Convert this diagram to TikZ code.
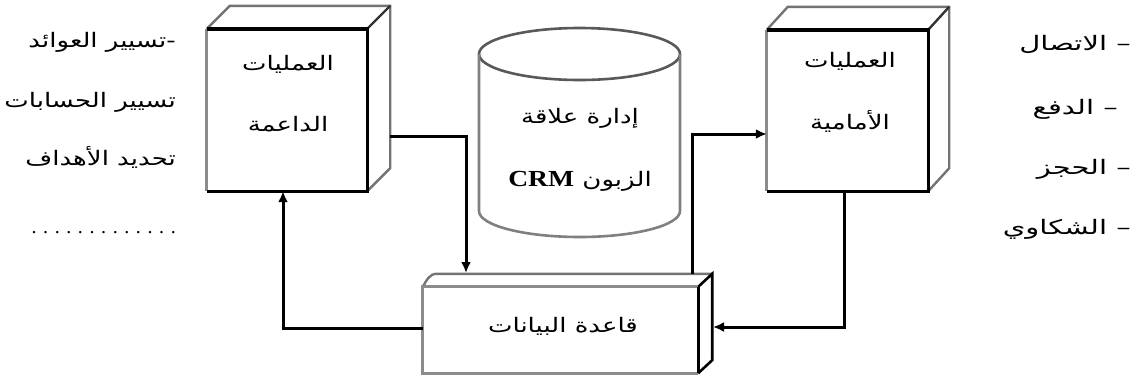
\documentclass[tikz,border=0pt]{standalone}
\usepackage{fontspec}
\setmainfont{Liberation Serif}
\newfontfamily\arabicfont[Script=Arabic,FakeStretch=1.3]{DejaVu Sans}
\newfontfamily\arabicwide[Script=Arabic,FakeStretch=1.45]{DejaVu Sans}
\newfontfamily\crmfont[FakeStretch=1.2]{Liberation Serif}
\TeXXeTstate=1
\usetikzlibrary{arrows.meta,calc}
\begin{document}
\begin{tikzpicture}[x=1pt,y=-1pt,
  box/.style={draw=none, inner sep=0pt},
  frontedge/.style={draw=black, line width=3.4pt},
  lightedge/.style={draw=black!45, line width=3pt},
  backedge/.style={draw=black!55, line width=2.4pt},
  conn/.style={draw=black, line width=3pt},
  arr/.style={-{Latex[length=11pt,width=10pt]}},
  ar/.style={font=\arabicfont\fontsize{20}{22}\selectfont, inner sep=0pt},
  lst/.style={ar, anchor=east},
  rlst/.style={font=\arabicwide\fontsize{20}{22}\selectfont, inner sep=0pt, anchor=east}]
\useasboundingbox (0,0) rectangle (1133,381);

% ---- left box (back office)
\node[box, minimum width=160pt, minimum height=162pt] (lb) at (287,110) {};
\draw[backedge] (lb.north west) -- ++(23,-23) -- ($(lb.north east)+(23,-23)$) -- ($(lb.south east)+(23,-23)$) -- (lb.south east);
\draw[backedge,draw=black!80] (lb.north east) -- ++(23,-23);
\draw[lightedge] (lb.north west) -- (lb.south west);
\draw[frontedge] (lb.south west) -- (lb.south east) -- (lb.north east) -- (lb.north west);
\node[ar] (lbt1) at (288,64) {\beginR العمليات\endR};
\node[ar] (lbt2) at (288,124) {\beginR الداعمة\endR};

% ---- right box (front office)
\node[box, minimum width=161pt, minimum height=161pt] (rb) at (847.5,110.5) {};
\draw[backedge] (rb.north west) -- ++(21,-23) -- ($(rb.north east)+(21,-23)$) -- ($(rb.south east)+(21,-23)$) -- (rb.south east);
\draw[backedge,draw=black!80] (rb.north east) -- ++(21,-23);
\draw[lightedge] (rb.north west) -- (rb.south west);
\draw[frontedge] (rb.south west) -- (rb.south east) -- (rb.north east) -- (rb.north west);
\node[ar] (rbt1) at (850,61) {\beginR العمليات\endR};
\node[ar] (rbt2) at (850,121) {\beginR الأمامية\endR};

% ---- cylinder (CRM)
\coordinate (cyl) at (579.5,54);
\draw[draw=black!65, line width=2.6pt] (cyl) ellipse [x radius=100.5, y radius=26];
\draw[draw=black!50, line width=2.6pt] ($(cyl)+(-100.5,0)$) -- ++(0,157) arc[start angle=180, end angle=360, x radius=100.5, y radius=-26] -- ($(cyl)+(100.5,0)$);
\node[ar] (cylt1) at (580,118) {\beginR إدارة علاقة\endR};
\node[ar] (cylt2) at (580,181) {\beginR الزبون \beginL{\crmfont\bfseries\fontsize{23}{24}\selectfont CRM}\endL\endR};

% ---- database box
\node[box, minimum width=275pt, minimum height=86pt] (db) at (560.5,330) {};
\coordinate (dbbnw) at ($(db.north west)+(14,-13)$);
\coordinate (dbbne) at ($(db.north east)+(14,-13)$);
\coordinate (dbbse) at ($(db.south east)+(14,-13)$);
\draw[backedge] (db.north west) to[out=60,in=180] (dbbnw) -- (dbbne);
\draw[frontedge, line width=2.6pt] (db.north east) -- (dbbne) -- (dbbse) -- (db.south east);
\draw[lightedge] (db.north east) -- (db.north west) -- (db.south west) -- (db.south east);
\draw[frontedge] (db.north east) -- (db.south east);
\node[ar] (dbt) at (563,326) {\beginR قاعدة البيانات\endR};

% ---- connectors
\coordinate (lbout) at (390,136);
\coordinate (dbin1) at (466,273);
\draw[conn, arr] (lbout) -| (dbin1);
\coordinate (dbout1) at (db.west |- 0,328);
\draw[conn, arr] (dbout1) -| (lb.south -| 283,0);
\coordinate (rbout) at (rb.south -| 844,0);
\coordinate (dbin2) at (713,327);
\draw[conn, arr] (rbout) |- (dbin2);
\coordinate (dbout2) at (692,274);
\draw[conn, arr] (dbout2) |- (rb.west |- 0,134);

% ---- left list
\node[lst] (l1) at (176,42) {\beginR -تسيير العوائد\endR};
\node[lst] (l2) at (176,102) {\beginR تسيير الحسابات\endR};
\node[lst] (l3) at (176,157) {\beginR تحديد الأهداف\endR};
\node[anchor=base east, inner sep=0pt, font=\fontsize{20}{20}\selectfont] (l4) at (176,233) {\spaceskip=6.6pt\xspaceskip=6.6pt . . . . . . . . . . . . .};

% ---- right list
\node[rlst] (r1) at (1131,44) {\beginR – الاتصال\endR};
\node[rlst] (r2) at (1118,109) {\beginR – الدفع\endR};
\node[rlst] (r3) at (1131,169) {\beginR – الحجز\endR};
\node[rlst] (r4) at (1131,229) {\beginR – الشكاوي\endR};
\end{tikzpicture}
\end{document}
